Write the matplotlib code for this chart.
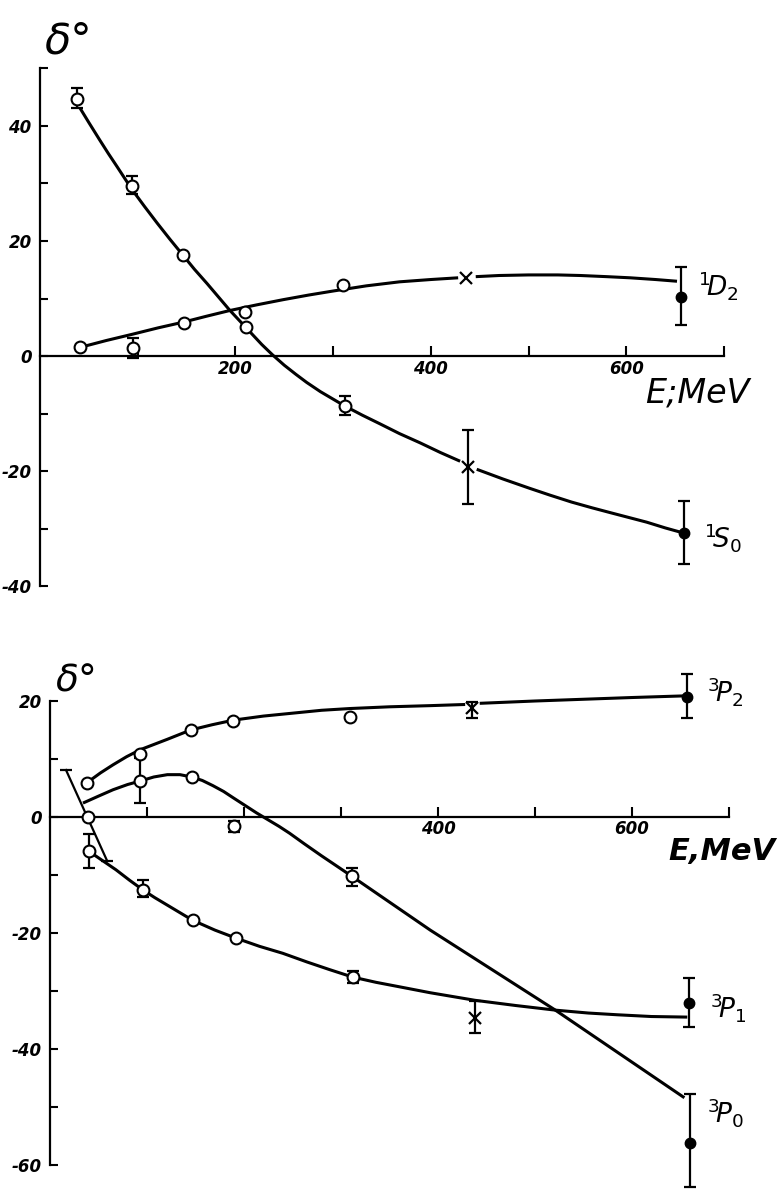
import matplotlib
matplotlib.use("Agg")
import matplotlib.pyplot as plt
from matplotlib.ticker import FixedLocator, NullFormatter

plt.rcParams['font.family'] = ['DejaVu Sans']
plt.rcParams['mathtext.fontset'] = 'dejavusans'

# ---------------- data: top panel (1S0, 1D2) ----------------
S0_open_E = [38, 94, 146, 211, 312]
S0_open_d = [44.7, 29.6, 17.6, 5.0, -8.7]
S0_err_E = [38, 94, 312]
S0_err_d = [44.7, 29.6, -8.7]
S0_err_lo = [1.6, 1.4, 1.6]
S0_err_hi = [1.9, 1.7, 1.7]
S0_cross_E = [438]
S0_cross_d = [-19.3]
S0_cross_lo = [6.4]
S0_cross_hi = [6.4]
S0_full_E = [659]
S0_full_d = [-30.8]
S0_full_lo = [5.4]
S0_full_hi = [5.6]
S0_curveA_E = [41, 50, 61, 70, 79, 94, 107, 120, 133, 146, 158, 171, 183, 194, 205,
               216, 227, 238, 250, 262, 273, 287, 300, 312, 330, 348, 368, 389, 410, 430]
S0_curveA_d = [43.1, 40.6, 37.6, 35.2, 32.9, 29.0, 26.0, 23.1, 20.3, 17.6, 15.1, 12.6,
               10.2, 8.0, 6.0, 4.0, 2.0, 0.2, -1.6, -3.2, -4.6, -6.2, -7.5, -8.7, -10.3,
               -11.8, -13.5, -15.1, -16.8, -18.3]
S0_curveB_E = [447, 474, 501, 522, 544, 565, 585, 603, 621, 640, 659]
S0_curveB_d = [-19.7, -21.4, -23.0, -24.2, -25.4, -26.4, -27.3, -28.1, -28.9, -29.9, -30.8]

D2_open_E = [41, 95, 147, 210, 310]
D2_open_d = [1.6, 1.4, 5.7, 7.7, 12.3]
D2_err_E = [95]
D2_err_d = [1.4]
D2_err_lo = [1.7]
D2_err_hi = [1.7]
D2_cross_E = [436]
D2_cross_d = [13.6]
D2_full_E = [656]
D2_full_d = [10.3]
D2_full_lo = [4.9]
D2_full_hi = [5.2]
D2_curveA_E = [41, 68, 95, 121, 147, 170, 194, 222, 249, 275, 300, 334, 368, 400, 428]
D2_curveA_d = [1.5, 2.7, 3.8, 4.9, 5.9, 6.9, 7.9, 8.9, 9.8, 10.6, 11.3, 12.2, 12.9, 13.3, 13.6]
D2_curveB_E = [446, 470, 500, 530, 553, 580, 604, 630, 652]
D2_curveB_d = [13.8, 14.0, 14.1, 14.1, 14.0, 13.8, 13.6, 13.3, 13.0]

# ---------------- data: bottom panel (3P2, 3P1, 3P0) ----------------
P2_open_E = [38, 93, 145, 189, 309]
P2_open_d = [5.9, 10.9, 15.0, 16.6, 17.2]
P2_cross_E = [435]
P2_cross_d = [18.8]
P2_cross_lo = [1.7]
P2_cross_hi = [1.0]
P2_full_E = [657]
P2_full_d = [20.7]
P2_full_lo = [3.6]
P2_full_hi = [4.0]
P2_curveA_E = [38, 52, 65, 79, 93, 107, 121, 133, 145, 167, 189, 220, 250, 280, 309, 350, 392, 428]
P2_curveA_d = [5.9, 7.6, 9.0, 10.4, 11.6, 12.5, 13.4, 14.2, 15.0, 15.9, 16.7, 17.4, 17.9,
               18.4, 18.7, 19.0, 19.2, 19.4]
P2_curveB_E = [443, 500, 550, 600, 657]
P2_curveB_d = [19.6, 20.0, 20.3, 20.6, 20.9]

P1_open_E = [40, 96, 147, 192, 312]
P1_open_d = [-5.9, -12.6, -17.8, -20.9, -27.6]
P1_err_E = [40, 96, 312]
P1_err_d = [-5.9, -12.6, -27.6]
P1_err_lo = [2.9, 1.2, 1.0]
P1_err_hi = [3.0, 1.7, 1.0]
P1_cross_E = [438]
P1_cross_d = [-34.7]
P1_cross_lo = [2.5]
P1_cross_hi = [3.0]
P1_full_E = [659]
P1_full_d = [-32.1]
P1_full_lo = [4.1]
P1_full_hi = [4.3]
P1_curve_E = [40, 54, 68, 82, 96, 108, 121, 134, 147, 170, 192, 216, 240, 265, 288, 312,
              336, 361, 392, 438, 480, 521, 555, 585, 620, 657]
P1_curve_d = [-5.9, -7.5, -9.1, -10.9, -12.6, -13.9, -15.2, -16.5, -17.8, -19.5, -20.9,
              -22.3, -23.5, -25.0, -26.3, -27.6, -28.5, -29.3, -30.3, -31.6, -32.5, -33.3,
              -33.8, -34.1, -34.4, -34.5]

P0_open_E = [39, 93, 146, 311]
P0_open_d = [0.0, 6.2, 6.9, -10.2]
P0_err_E = [93, 311]
P0_err_d = [6.2, -10.2]
P0_err_lo = [3.8, 1.7]
P0_err_hi = [4.0, 1.4]
P0_band_E = [16.5, 59]
P0_band_d = [8.1, -7.6]
P0_full_E = [660]
P0_full_d = [-56.2]
P0_full_lo = [7.6]
P0_full_hi = [8.4]
P0_curve_E = [34, 50, 65, 80, 93, 107, 121, 134, 146, 157, 168, 179, 189, 201, 213, 225,
              236, 247, 262, 280, 296, 311, 392, 521, 654]
P0_curve_d = [2.4, 3.6, 4.7, 5.6, 6.2, 6.9, 7.3, 7.3, 6.9, 6.3, 5.4, 4.4, 3.3, 2.0, 0.7,
              -0.5, -1.6, -2.8, -4.6, -6.7, -8.5, -10.2, -19.5, -33.3, -48.4]

X_open_E = [190]
X_open_d = [-1.6]
X_err = [0.9]

# ---------------- figure ----------------
W, H = 781, 1190
fig = plt.figure(figsize=(W / 100, H / 100), dpi=100)

ax1 = fig.add_axes([0, (H - 620) / H, 1, 620 / H])
ax1.set_xlim(-40 / 0.977, (W - 40) / 0.977)
ax1.set_ylim((356 - 620) / 5.75, 356 / 5.75)

ax2 = fig.add_axes([0, 0, 1, 570 / H])
ax2.set_xlim(-50 / 0.97, (W - 50) / 0.97)
ax2.set_ylim((817 - 1190) / 5.8, (817 - 620) / 5.8)

LW = 2.2
MS = 8.5
tick_font = dict(style='italic', weight='bold', size=12)


def setup(ax, ybounds, ymaj, ymin, xmaj, xmin, xpad):
    ax.patch.set_alpha(0)
    for s in ['top', 'right']:
        ax.spines[s].set_visible(False)
    ax.spines['left'].set_position(('data', 0))
    ax.spines['bottom'].set_position(('data', 0))
    ax.spines['left'].set_bounds(*ybounds)
    ax.spines['bottom'].set_bounds(0, 700)
    for s in ['left', 'bottom']:
        ax.spines[s].set_linewidth(1.6)
    ax.yaxis.set_major_locator(FixedLocator(ymaj))
    ax.yaxis.set_minor_locator(FixedLocator(ymin))
    ax.xaxis.set_major_locator(FixedLocator(xmaj))
    ax.xaxis.set_minor_locator(FixedLocator(xmin))
    ax.xaxis.set_minor_formatter(NullFormatter())
    ax.yaxis.set_minor_formatter(NullFormatter())
    ax.tick_params(axis='y', which='both', direction='in', length=6, width=1.5, pad=6)
    ax.tick_params(axis='x', which='both', direction='in', length=7, width=1.5, pad=xpad)
    ax.set_yticklabels([str(v) for v in ymaj], fontdict=tick_font)
    ax.set_xticklabels([str(v) for v in xmaj], fontdict=tick_font)


setup(ax1, (-40, 50), [-40, -20, 0, 20, 40], [-30, -10, 10, 30, 50],
      [200, 400, 600], [100, 300, 500, 700], 3)
setup(ax2, (-60, 20), [-60, -40, -20, 0, 20], [-50, -30, -10, 10],
      [400, 600], [100, 200, 300, 500, 700], 2.5)

eb = dict(fmt='none', ecolor='black', elinewidth=1.6, capsize=4.5, capthick=1.6, zorder=3)
op = dict(ls='none', marker='o', ms=MS, mfc='white', mec='black', mew=1.5, zorder=5)
fl = dict(ls='none', marker='o', ms=7.5, mfc='black', mec='black', zorder=5)
cr = dict(ls='none', marker='x', ms=8, mec='black', mew=1.6, zorder=5)
ln = dict(color='black', lw=LW, solid_capstyle='butt', solid_joinstyle='round', zorder=2)

# top panel
ax1.plot(S0_curveA_E, S0_curveA_d, **ln)
ax1.plot(S0_curveB_E, S0_curveB_d, **ln)
ax1.plot(D2_curveA_E, D2_curveA_d, **ln)
ax1.plot(D2_curveB_E, D2_curveB_d, **ln)
ax1.errorbar(S0_err_E, S0_err_d, yerr=[S0_err_lo, S0_err_hi], **eb)
ax1.errorbar(S0_cross_E, S0_cross_d, yerr=[S0_cross_lo, S0_cross_hi], **eb)
ax1.errorbar(S0_full_E, S0_full_d, yerr=[S0_full_lo, S0_full_hi], **eb)
ax1.errorbar(D2_err_E, D2_err_d, yerr=[D2_err_lo, D2_err_hi], **eb)
ax1.errorbar(D2_full_E, D2_full_d, yerr=[D2_full_lo, D2_full_hi], **eb)
ax1.plot(S0_open_E, S0_open_d, **op)
ax1.plot(D2_open_E, D2_open_d, **op)
ax1.plot(S0_cross_E, S0_cross_d, **cr)
ax1.plot(D2_cross_E, D2_cross_d, **cr)
ax1.plot(S0_full_E, S0_full_d, **fl)
ax1.plot(D2_full_E, D2_full_d, **fl)

# bottom panel
ax2.plot(P2_curveA_E, P2_curveA_d, **ln)
ax2.plot(P2_curveB_E, P2_curveB_d, **ln)
ax2.plot(P1_curve_E, P1_curve_d, **ln)
ax2.plot(P0_curve_E, P0_curve_d, **ln)
ax2.plot(P0_band_E, P0_band_d, color='black', lw=1.6, zorder=3)
ax2.plot(P0_band_E, P0_band_d, ls='none', marker='_', ms=8, mew=1.6, color='black', zorder=3)
ax2.errorbar(P2_cross_E, P2_cross_d, yerr=[P2_cross_lo, P2_cross_hi], **eb)
ax2.errorbar(P2_full_E, P2_full_d, yerr=[P2_full_lo, P2_full_hi], **eb)
ax2.errorbar(P1_err_E, P1_err_d, yerr=[P1_err_lo, P1_err_hi], **eb)
ax2.errorbar(P1_cross_E, P1_cross_d, yerr=[P1_cross_lo, P1_cross_hi], **eb)
ax2.errorbar(P1_full_E, P1_full_d, yerr=[P1_full_lo, P1_full_hi], **eb)
ax2.errorbar(P0_err_E, P0_err_d, yerr=[P0_err_lo, P0_err_hi], **eb)
ax2.errorbar(P0_full_E, P0_full_d, yerr=[P0_full_lo, P0_full_hi], **eb)
ax2.errorbar(X_open_E, X_open_d, yerr=X_err, **eb)
ax2.plot(P2_open_E, P2_open_d, **op)
ax2.plot(P1_open_E, P1_open_d, **op)
ax2.plot(P0_open_E, P0_open_d, **op)
ax2.plot(X_open_E, X_open_d, **op)
ax2.plot(P2_cross_E, P2_cross_d, **cr)
ax2.plot(P1_cross_E, P1_cross_d, **cr)
ax2.plot(P2_full_E, P2_full_d, **fl)
ax2.plot(P1_full_E, P1_full_d, **fl)
ax2.plot(P0_full_E, P0_full_d, **fl)

# labels
lab = dict(size=19, ha='left', va='center')
ax1.text(674, 12.3, r'$^{1}\!D_{2}$', **lab)
ax1.text(680, -31.6, r'$^{1}\!S_{0}$', **lab)
ax2.text(677, 21.6, r'$^{3}\!P_{2}$', **lab)
ax2.text(680, -32.9, r'$^{3}\!P_{1}$', **lab)
ax2.text(677, -50.9, r'$^{3}\!P_{0}$', **lab)

fig.text(697 / W, 1 - 393 / H, 'E;MeV', ha='center', va='center',
         style='italic', size=24)
fig.text(722 / W, 1 - 852 / H, 'E,MeV', ha='center', va='center',
         style='italic', weight='bold', size=22)
fig.text(45 / W, 1 - 53 / H, 'δ°', ha='left', va='baseline', style='italic', size=31)
fig.text(56 / W, 1 - 692 / H, 'δ°', ha='left', va='baseline', style='italic', size=27)

fig.savefig('out.png', dpi=100, facecolor='white')
